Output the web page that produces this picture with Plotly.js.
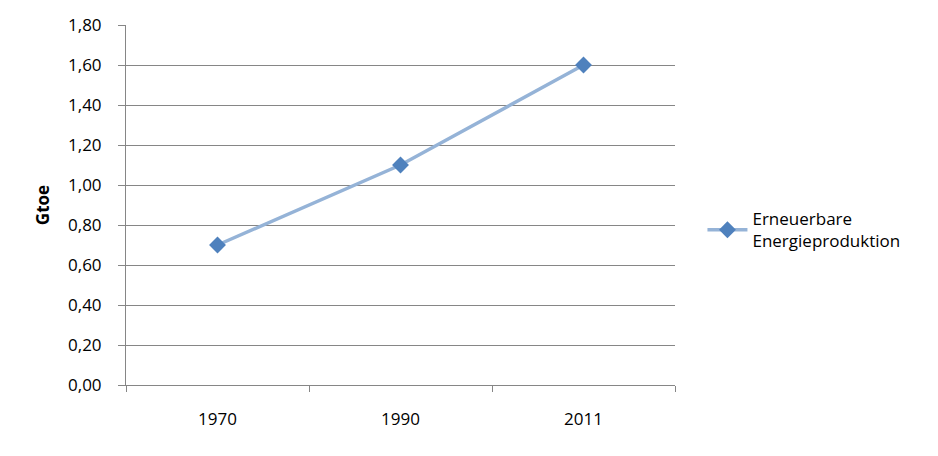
<!DOCTYPE html>
<html>
<head>
<meta charset="utf-8">
<script src="https://cdn.plot.ly/plotly-3.0.1.min.js"></script>
<style>html,body{margin:0;padding:0;background:#fff;}#chart{width:938px;height:456px;}</style>
</head>
<body>
<div id="chart"></div>
<script>
var years = ["1970", "1990", "2011"];
var values = [0.70, 1.10, 1.60];
var seriesName = "Erneuerbare<br>Energieproduktion";
var yTickVals = [0, 0.2, 0.4, 0.6, 0.8, 1.0, 1.2, 1.4, 1.6, 1.8];

var font = "'Open Sans', Lato, sans-serif";
var trace = {
  x: years, y: values, type: "scatter", mode: "lines+markers", name: seriesName,
  line: {color: "#95B3D7", width: 3.5},
  marker: {symbol: "diamond", size: 13, color: "#4F81BD", line: {width: 0}}
};
var layout = {
  width: 938, height: 456,
  margin: {l: 126, r: 263, t: 25, b: 71},
  paper_bgcolor: "#fff", plot_bgcolor: "#fff",
  separators: ",.",
  font: {family: font, size: 17, color: "#000"},
  showlegend: true,
  legend: {x: 1.05, y: 0.43, xanchor: "left", yanchor: "middle", font: {family: font, size: 17, color: "#000"}, itemwidth: 40, tracegroupgap: 0},
  xaxis: {
    type: "category", range: [-0.5, 2.5], tickson: "boundaries",
    ticks: "outside", ticklen: 6, tickcolor: "#868686", tickwidth: 1,
    showline: true, linecolor: "#868686", linewidth: 1, showgrid: false, zeroline: false,
    tickfont: {family: font, size: 17, color: "#000"}, ticklabelstandoff: 19
  },
  yaxis: {
    range: [0, 1.8], tickvals: yTickVals, tickformat: ".2f",
    ticks: "outside", ticklen: 7, tickcolor: "#868686",
    showline: true, linecolor: "#868686", showgrid: true, gridcolor: "#868686", gridwidth: 1, zeroline: false,
    tickfont: {family: font, size: 17, color: "#000"}, ticklabelstandoff: 13,
    title: {text: "<b>Gtoe</b>", font: {family: font, size: 17, color: "#000"}, standoff: 14}
  }
};
Plotly.newPlot("chart", [trace], layout, {displayModeBar: false, staticPlot: true});
</script>
</body>
</html>
